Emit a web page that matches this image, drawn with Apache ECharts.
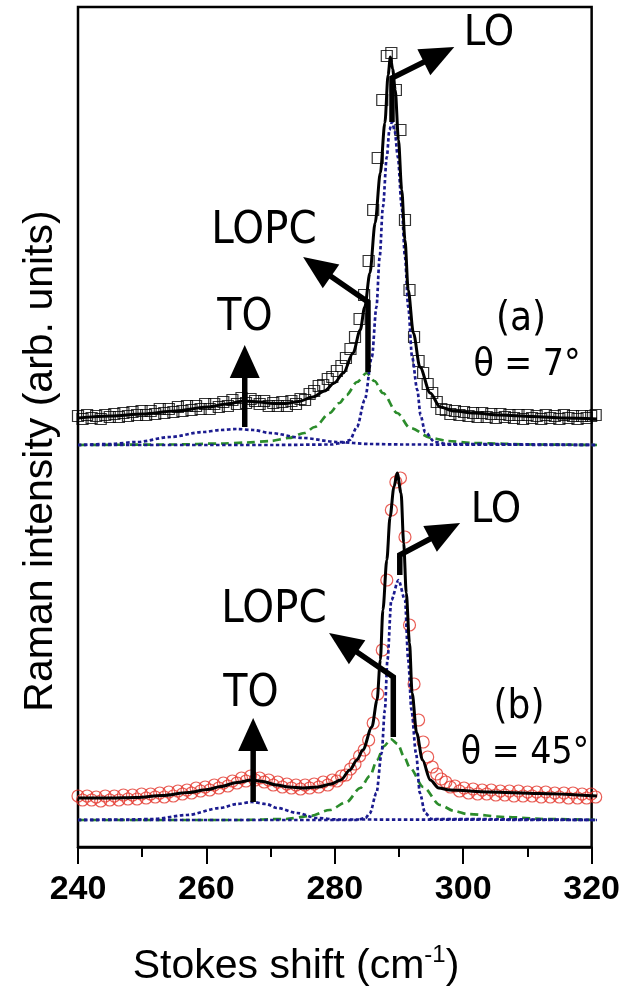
<!DOCTYPE html>
<html><head><meta charset="utf-8">
<script src="https://cdn.jsdelivr.net/npm/echarts@6/dist/echarts.min.js"></script>
<style>html,body{margin:0;padding:0;background:#fff}#c{width:623px;height:991px}</style>
</head><body><div id="c"></div>
<script>
// Stokes shift sampling (cm^-1)
const shift = [
240.0,240.7,241.4,242.1,242.8,243.5,244.2,244.9,245.6,246.3,
247.0,247.7,248.4,249.1,249.8,250.5,251.2,251.9,252.6,253.3,
254.0,254.7,255.4,256.1,256.8,257.5,258.2,258.9,259.6,260.3,
261.0,261.7,262.4,263.1,263.8,264.5,265.2,265.9,266.6,267.3,
268.0,268.7,269.4,270.1,270.8,271.5,272.2,272.9,273.6,274.3,
275.0,275.7,276.4,277.1,277.8,278.5,279.2,279.9,280.6,281.3,
282.0,282.7,283.4,284.1,284.8,285.5,286.2,286.9,287.6,288.3,
289.0,289.7,290.4,291.1,291.8,292.5,293.2,293.9,294.6,295.3,
296.0,296.7,297.4,298.1,298.8,299.5,300.2,300.9,301.6,302.3,
303.0,303.7,304.4,305.1,305.8,306.5,307.2,307.9,308.6,309.3,
310.0,310.7,311.4,312.1,312.8,313.5,314.2,314.9,315.6,316.3,
317.0,317.7,318.4,319.1,319.8];
// (a) theta = 7 deg, measured intensity
const intensityA = [
2.9,2.6,3.0,2.7,2.9,2.6,3.0,2.8,3.1,2.8,
3.2,2.9,3.3,3.0,3.4,3.0,3.4,3.1,3.6,3.2,
3.6,3.3,3.8,3.4,3.9,3.5,3.9,3.6,4.1,3.6,
4.1,3.8,4.3,3.9,4.5,4.1,4.7,4.2,4.6,4.4,
4.1,4.4,3.9,4.2,3.9,4.3,3.9,4.4,4.1,4.6,
4.5,5.1,5.4,5.9,6.0,6.6,6.8,7.4,7.9,8.7,
9.6,10.8,12.6,15.0,18.4,23.5,28.7,34.5,38.9,39.2,
35.5,31.5,22.5,15.5,10.8,8.4,7.2,6.1,5.2,4.3,
3.6,3.5,3.1,3.4,3.0,3.3,2.9,3.2,2.8,3.2,
2.8,3.1,2.7,3.1,2.8,3.0,2.7,3.0,2.6,3.0,
2.7,2.9,2.6,3.0,2.7,2.9,2.6,3.0,2.7,2.9,
2.6,2.9,2.7,2.9,3.0];
// (b) theta = 45 deg, measured intensity
const intensityB = [
2.4,2.0,2.4,2.0,2.3,1.9,2.4,2.0,2.4,2.0,
2.5,2.1,2.5,2.1,2.6,2.2,2.6,2.3,2.7,2.3,
2.8,2.4,2.9,2.6,3.0,2.7,3.2,2.9,3.3,3.0,
3.5,3.2,3.7,3.4,3.9,3.7,4.2,3.9,4.4,4.0,
4.2,3.8,4.0,3.5,3.8,3.3,3.6,3.2,3.5,3.1,
3.5,3.2,3.6,3.3,3.8,3.5,4.0,3.9,4.4,4.5,
5.1,5.6,6.4,7.0,8.0,9.7,12.6,17.0,24.0,31.0,
33.8,34.2,28.3,19.5,13.6,10.0,7.8,6.3,5.3,4.6,
4.1,3.8,3.3,3.4,2.9,3.2,2.7,3.1,2.6,3.0,
2.6,3.0,2.5,2.9,2.5,2.9,2.4,2.9,2.4,2.8,
2.4,2.8,2.3,2.8,2.3,2.7,2.3,2.7,2.2,2.7,
2.2,2.6,2.2,2.6,2.3];
// fitted curves [shift, intensity]
const fitA = [[240,2.7],[245,2.9],[250,3.1],[255,3.4],[260,3.8],[263,4.1],[265.5,4.4],[268,4.3],[270,4.15],[272,4.15],[274,4.35],[276.2,4.8],[278,5.4],[279.5,6.2],[280.9,7.2],[282.4,9.2],[283.5,11.5],[284.2,13.8],[285,17.2],[285.8,22.2],[286.6,27.2],[287.3,32.2],[287.8,37.0],[288.15,38.8],[288.5,37.6],[288.9,35.5],[289.4,30.5],[289.9,25.5],[290.4,20.5],[290.9,15.5],[291.7,11.2],[292.7,7.8],[294.3,5.2],[295.8,3.8],[298,3.4],[301,3.2],[305,3.0],[310,2.85],[315,2.7],[320,2.6]];
const toA = [[240,0],[245,0.1],[249.1,0.3],[254.2,0.8],[259.3,1.3],[262,1.5],[264.5,1.6],[267,1.5],[269.6,1.2],[274.7,0.7],[279.9,0.3],[285,0.1],[290,0.05],[320,0]];
const loA = [[240,0],[270,0],[279,0.05],[281,0.25],[281.9,0.5],[283,1.8],[284.2,4.5],[285.3,8.8],[286,13.8],[286.5,18.8],[287,23.8],[287.6,28.8],[288.0,31.5],[288.4,32.3],[288.8,31.5],[289.3,28.8],[289.9,23.8],[290.4,18.8],[290.9,13.8],[291.5,8.8],[292.3,5.5],[292.8,3.0],[293.5,1.3],[295,0.3],[297,0.1],[320,0]];
const lopcA = [[240,0],[255,0.05],[262,0.15],[266,0.25],[269.6,0.4],[272.5,0.7],[274.9,1.2],[276.5,1.8],[278.8,3.2],[280.3,4.2],[281.4,5.0],[283,6.3],[284.5,7.2],[285.7,6.4],[287,5.2],[289.2,3.2],[291.2,1.7],[294.5,0.7],[297,0.4],[300.9,0.2],[310,0.05],[320,0]];
const fitB = [[240,2.2],[245,2.2],[249,2.25],[253,2.45],[257,2.75],[260,3.05],[262,3.35],[264.5,3.75],[266.8,4.0],[268.5,3.85],[270.6,3.5],[272.5,3.3],[274.7,3.2],[277,3.3],[279,3.6],[280.5,4.0],[281.9,5.0],[283,6.0],[283.9,7.0],[285.3,9.3],[286.1,12.0],[286.6,16.0],[287.0,21.0],[287.6,26.0],[288.1,30.3],[288.7,33.3],[289.2,34.7],[289.8,32.7],[290.2,27.7],[290.6,22.7],[291.1,17.7],[291.5,12.7],[292.2,8.7],[293.1,6.0],[294.3,4.0],[295.6,3.2],[297.3,3.0],[303.4,2.8],[311,2.65],[320,2.4]];
const toB = [[240,0],[248,0.05],[251.6,0.1],[256.8,0.5],[261.9,1.2],[264.5,1.6],[266.8,1.8],[269,1.6],[270.7,1.2],[273.8,0.7],[276.8,0.2],[280,0.05],[320,0]];
const loB = [[240,0],[283,0],[284.3,0.2],[285.0,0.7],[286.0,2.7],[286.8,6.7],[287.3,11.0],[287.7,16.0],[288.3,22.0],[289.4,24.0],[290.4,22.0],[290.9,16.0],[291.4,11.0],[292.1,6.7],[292.7,2.7],[293.5,0.7],[294.5,0.1],[320,0]];
const lopcB = [[240,0],[265,0],[272,0.1],[275.8,0.4],[278.8,1.0],[281.4,1.8],[283.5,3.2],[285,4.4],[286.1,6.0],[287.2,7.4],[288.2,8.1],[289.3,7.6],[290.2,6.4],[291.2,5.2],[293.2,3.3],[295.8,1.5],[298,0.9],[300,0.6],[306,0.3],[312,0.1],[320,0]];

const chart = echarts.init(document.getElementById('c'), null, {renderer: 'canvas'});
const pair = (xs, ys) => xs.map((x, i) => [x, ys[i]]);
const BLUE = '#1b1b8f', GREEN = '#2b8c2b', RED = '#e3342b';
const dotted = {color: BLUE, width: 2.7, type: [3.5, 2.5]};
const dashed = {color: GREEN, width: 2.7, type: [8, 5]};
const curve = (data, idx, ls, z) => ({type: 'line', data, xAxisIndex: idx, yAxisIndex: idx, smooth: 0.3, smoothMonotone: 'x', showSymbol: false, symbol: 'none', lineStyle: ls, clip: false, silent: true, z});
const points = (data, idx, sym, size, col) => ({type: 'scatter', data, xAxisIndex: idx, yAxisIndex: idx, symbol: sym, symbolSize: size, clip: false, silent: true, z: 2,
  itemStyle: {color: 'rgba(0,0,0,0)', borderColor: col, borderWidth: 1.2}});
const hidden = {show: false};
chart.setOption({
  animation: false,
  grid: [
    {left: 78, right: 26, top: 7, bottom: 144, show: true, borderColor: '#000', borderWidth: 2.5},
    {left: 78, right: 26, top: 7, height: 442},
    {left: 78, right: 26, top: 449, height: 398}
  ],
  xAxis: [
    {gridIndex: 0, type: 'value', min: 240, max: 320, interval: 20,
     axisLine: {show: true, lineStyle: {color: '#000', width: 2.5}},
     axisTick: {show: true, inside: false, length: 17, lineStyle: {color: '#000', width: 2}},
     minorTick: {show: true, splitNumber: 2, length: 10, lineStyle: {color: '#000', width: 2}},
     splitLine: hidden, minorSplitLine: hidden,
     axisLabel: {margin: 26, fontSize: 34, fontWeight: 'bold', color: '#000', fontFamily: 'Liberation Sans, Arial, sans-serif'}},
    {gridIndex: 1, type: 'value', min: 240, max: 320, show: false},
    {gridIndex: 2, type: 'value', min: 240, max: 320, show: false}
  ],
  yAxis: [
    {gridIndex: 0, type: 'value', min: 0, max: 1, show: false},
    {gridIndex: 1, type: 'value', min: -0.4, max: 43.8, show: false},
    {gridIndex: 2, type: 'value', min: -2.7, max: 37.1, show: false}
  ],
  series: [
    points(pair(shift, intensityA), 1, 'rect', 11, '#000'),
    curve(lopcA, 1, dashed, 3), curve(toA, 1, dotted, 3), curve(loA, 1, dotted, 3),
    curve(fitA, 1, {color: '#000', width: 3}, 4),
    points(pair(shift, intensityB), 2, 'circle', 12, RED),
    curve(lopcB, 2, dashed, 3), curve(toB, 2, dotted, 3), curve(loB, 2, dotted, 3),
    curve(fitB, 2, {color: '#000', width: 3}, 4)
  ]
});

function arrow(gi, pts, headLen, headW, w) {
  const p = pts.map(d => chart.convertToPixel({xAxisIndex: gi, yAxisIndex: gi}, d));
  const tip = p[p.length - 1], prev = p[p.length - 2];
  const dx = tip[0] - prev[0], dy = tip[1] - prev[1], L = Math.hypot(dx, dy);
  const ux = dx / L, uy = dy / L;
  const base = [tip[0] - ux * headLen, tip[1] - uy * headLen];
  const shaftEnd = [base[0] + ux * 3, base[1] + uy * 3];
  const shaft = p.slice(0, -1).concat([shaftEnd]);
  return [
    {type: 'polyline', shape: {points: shaft}, style: {stroke: '#000', lineWidth: w, fill: null, lineJoin: 'miter'}, z: 50},
    {type: 'polygon', shape: {points: [tip, [base[0] - uy * headW / 2, base[1] + ux * headW / 2], [base[0] + uy * headW / 2, base[1] - ux * headW / 2]]}, style: {fill: '#000'}, z: 51}
  ];
}
const LF = '"DejaVu Sans Condensed","DejaVu Sans",sans-serif';
const label = (text, x, y, size) => ({type: 'text', x, y, z: 60,
  style: {text, fontSize: size, fontFamily: LF, fill: '#000', align: 'center', verticalAlign: 'middle'}});

const g = [].concat(
  arrow(1, [[265.7, 1.8], [265.7, 10.0]], 33, 30, 5.5),
  arrow(1, [[284.7, 7.3], [284.7, 14.3], [274.7, 18.8]], 34, 29, 5.5),
  arrow(1, [[288.4, 32.3], [288.4, 36.7], [298.0, 39.8]], 34, 29, 5.5),
  arrow(2, [[267.0, 1.8], [267.0, 10.2]], 33, 30, 5.5),
  arrow(2, [[288.6, 8.3], [288.6, 14.3], [278.7, 18.7]], 34, 29, 5.5),
  arrow(2, [[289.6, 24.5], [289.6, 26.5], [298.9, 29.7]], 34, 29, 5.5),
  [
    label('LO', 489, 34, 43), label('LOPC', 264, 231, 45), label('TO', 245, 319, 44),
    label('(a)', 521, 320, 40), label('\u03b8 = 7\u00b0', 527, 365, 37),
    label('LO', 496, 511, 43), label('LOPC', 274, 610, 45), label('TO', 251, 695, 44),
    label('(b)', 519, 708, 40), label('\u03b8 = 45\u00b0', 525, 753, 37),
    {type: 'text', x: 41, y: 461, rotation: Math.PI / 2, z: 60,
     style: {text: 'Raman intensity (arb. units)', fontSize: 41, fontFamily: 'Liberation Sans, Arial, sans-serif', fill: '#000', align: 'center', verticalAlign: 'middle'}},
    {type: 'text', x: 296, y: 967, z: 60,
     style: {text: '{a|Stokes shift (cm}{s|-1}{a|)}', align: 'center', verticalAlign: 'middle',
       rich: {a: {fontSize: 41, fontFamily: 'Liberation Sans, Arial, sans-serif', fill: '#000', color: '#000', lineHeight: 48},
              s: {fontSize: 24, fontFamily: 'Liberation Sans, Arial, sans-serif', fill: '#000', color: '#000', verticalAlign: 'top', lineHeight: 24}}}}
  ]
);
chart.setOption({graphic: g});
</script>
</body></html>
